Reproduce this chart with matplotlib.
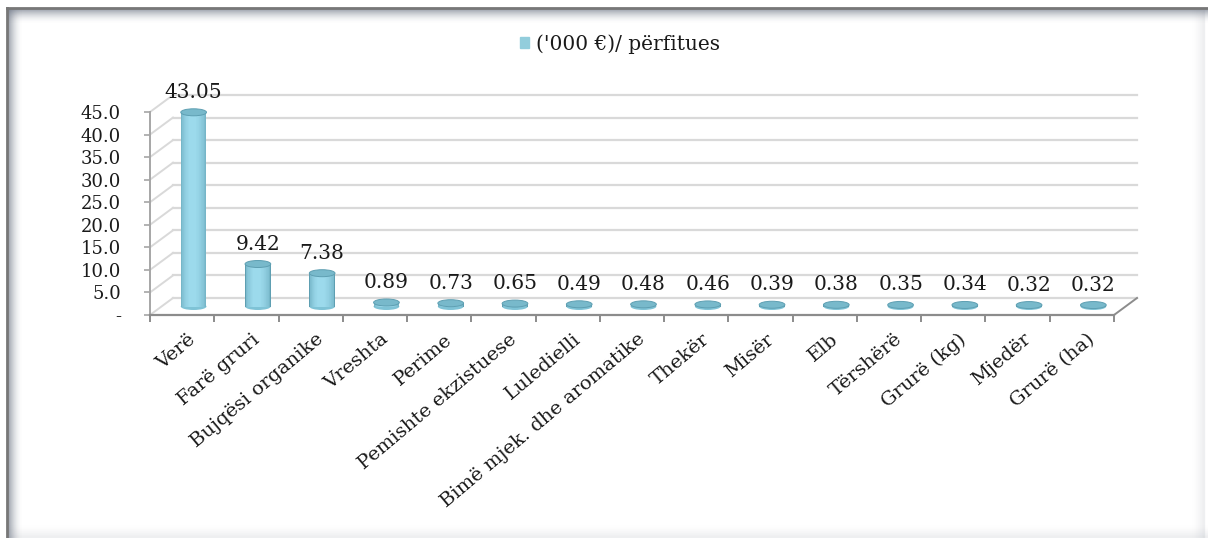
import numpy as np
import matplotlib
matplotlib.use('Agg')
import matplotlib.pyplot as plt
import matplotlib.transforms as mtransforms
from matplotlib.patches import Ellipse, Rectangle
from matplotlib.lines import Line2D
from matplotlib.colors import to_rgb

# data
categories = ['Verë', 'Farë gruri', 'Bujqësi organike', 'Vreshta', 'Perime',
              'Pemishte ekzistuese', 'Luledielli', 'Bimë mjek. dhe aromatike',
              'Thekër', 'Misër', 'Elb', 'Tërshërë', 'Grurë (kg)', 'Mjedër', 'Grurë (ha)']
values = [43.05, 9.42, 7.38, 0.89, 0.73, 0.65, 0.49, 0.48, 0.46, 0.39, 0.38,
          0.35, 0.34, 0.32, 0.32]
series_name = "('000 €)/ përfitues"
yticks = [0, 5, 10, 15, 20, 25, 30, 35, 40, 45]
ytick_labels = ['-', '5.0', '10.0', '15.0', '20.0', '25.0', '30.0', '35.0', '40.0', '45.0']

plt.rcParams['font.family'] = ['DejaVu Serif']
TXT = '#1A1A1A'

W, H = 1208, 538
fig = plt.figure(figsize=(W / 100, H / 100), dpi=100)

# front plane of the "3d" plot
x0, x1, y0, y1 = 150, 1114, 315, 112
ax = fig.add_axes([x0 / W, 1 - y0 / H, (x1 - x0) / W, (y0 - y1) / H])
n = len(categories)
ax.set_xlim(-0.5, n - 0.5)
ax.set_ylim(0, 45)
ax.patch.set_visible(False)

px_x = (x1 - x0) / n
px_y = (y0 - y1) / 45.0
DX = 23 / px_x   # depth offset in data units
DY = 17 / px_y

# back wall gridlines + side wall diagonals
for t in yticks:
    ax.plot([-0.5 + DX, n - 0.5 + DX], [t + DY, t + DY], color='#D9D9D9', lw=1.6,
            clip_on=False, zorder=0)
    ax.plot([-0.5, -0.5 + DX], [t, t + DY], color='#D9D9D9', lw=1.4,
            clip_on=False, zorder=0)
ax.plot([n - 0.5, n - 0.5 + DX], [0, DY], color='#8C8C8C', lw=1.4, clip_on=False, zorder=1)

# cylinders
bw = 0.4
eh = 7 / px_y
dark = np.array(to_rgb('#5E9FB2'))
light = np.array(to_rgb('#9CDAEC'))
steps = 16
for i, v in enumerate(values):
    xc = i + DX / 2
    base = DY / 2
    ax.add_patch(Ellipse((xc, base), bw, eh, facecolor='#7FC3D6', edgecolor='none',
                         zorder=2, clip_on=False))
    for k in range(steps):
        f = min(1.0, (k / (steps - 1)) ** 0.35)
        c = dark * (1 - f) + light * f
        ax.bar(xc - 0.02 * k / steps, v, width=bw * (1 - 0.8 * k / steps), bottom=base,
               color=c, zorder=3 + k * 0.01, clip_on=False)
    ax.add_patch(Ellipse((xc, base + v), bw, eh, facecolor='#78B9CB', edgecolor='#5E9FB2',
                         lw=0.7, zorder=4, clip_on=False))
    ax.text(xc, base + v + 20 / px_y, f'{v:.2f}', ha='center', va='center',
            fontsize=14.5, color=TXT, zorder=5)

# axes
for s in ['top', 'right']:
    ax.spines[s].set_visible(False)
ax.spines['left'].set_color('#A6A6A6')
ax.spines['left'].set_linewidth(1.4)
ax.spines['bottom'].set_color('#8C8C8C')
ax.spines['bottom'].set_linewidth(1.6)

ax.set_yticks(yticks)
ax.set_yticklabels(ytick_labels, fontsize=13, color=TXT)
ax.tick_params(axis='y', length=4, width=1.2, color='#A6A6A6', pad=17)

ax.set_xticks(np.arange(n))
ax.set_xticklabels(categories, rotation=40, ha='right', va='top',
                   rotation_mode='anchor', fontsize=14, color=TXT)
ax.tick_params(axis='x', which='major', length=0, pad=11)
shift = mtransforms.ScaledTranslation(0.05, 0, fig.dpi_scale_trans)
for lbl in ax.get_xticklabels():
    lbl.set_transform(lbl.get_transform() + shift)
ax.set_xticks(np.arange(n + 1) - 0.5, minor=True)
ax.tick_params(axis='x', which='minor', length=5, width=1.4, color='#8C8C8C')

# legend
fig.legend(handles=[Rectangle((0, 0), 1, 1, color='#92CDDC')], labels=[series_name],
           loc='center', bbox_to_anchor=(620 / W, 1 - 44 / H), frameon=False,
           handlelength=0.42, handleheight=0.42, handletextpad=0.35, fontsize=14.5,
           labelcolor=TXT)

# outer frame with soft inner shadow
def fx(x):
    return x / W

def fy(y):
    return 1 - y / H

for i in range(14):
    a = 0.55 * (1 - i / 14) ** 2
    fig.add_artist(Line2D([fx(7), fx(W)], [fy(9 + i), fy(9 + i)], color='#6E7686',
                          alpha=a, lw=1.0))
    fig.add_artist(Line2D([fx(8 + i), fx(8 + i)], [fy(9), fy(H)], color='#6E7686',
                          alpha=a, lw=1.0))
    b = 0.12 * (1 - i / 14) ** 2
    fig.add_artist(Line2D([fx(7), fx(W)], [fy(H - 1 - i), fy(H - 1 - i)], color='#8A92A0',
                          alpha=b, lw=1.0))
    fig.add_artist(Line2D([fx(W - 4 - i), fx(W - 4 - i)], [fy(9), fy(H)], color='#8A92A0',
                          alpha=b, lw=1.0))
fig.add_artist(Line2D([fx(7), fx(W)], [fy(8), fy(8)], color='#777777', lw=2))
fig.add_artist(Line2D([fx(7), fx(7)], [fy(8), fy(H)], color='#777777', lw=2))

fig.savefig('out.png', dpi=100)
